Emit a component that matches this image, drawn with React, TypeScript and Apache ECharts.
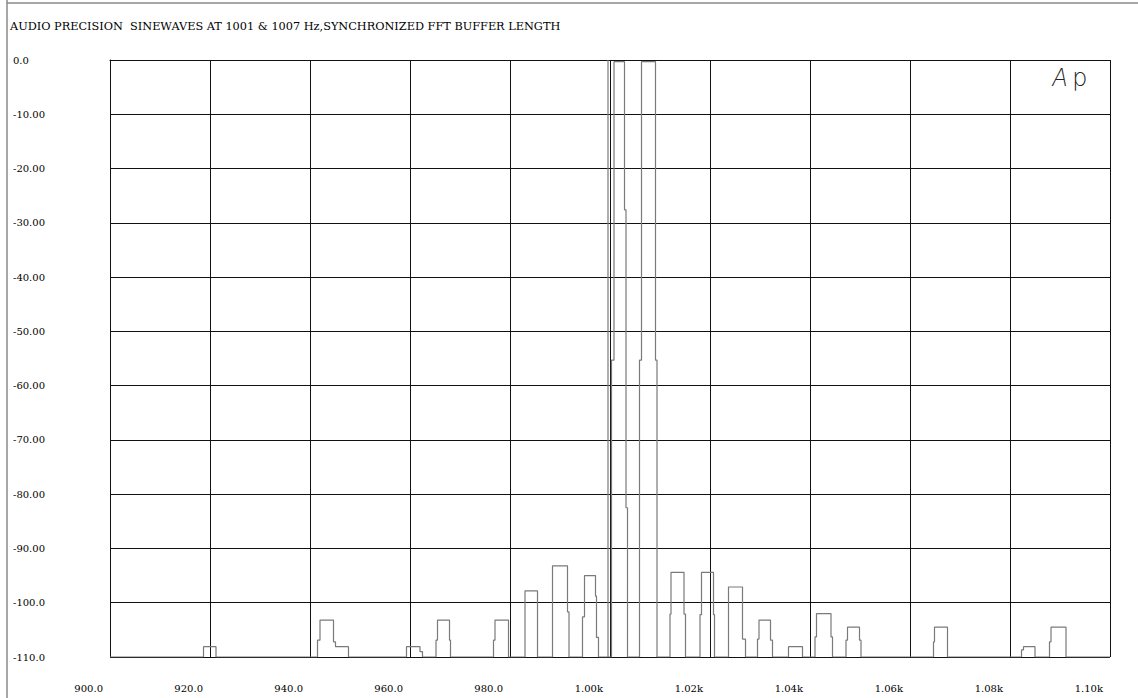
import React, { useEffect, useRef } from "react";
import * as echarts from "echarts";

const TITLE = "AUDIO PRECISION  SINEWAVES AT 1001 & 1007 Hz,SYNCHRONIZED FFT BUFFER LENGTH";

const X_MIN = 900;
const X_MAX = 1100;
const X_STEP = 20;
const Y_MIN = -110;
const Y_MAX = 0;
const Y_STEP = 10;

const X_TICK_LABELS = ["900.0", "920.0", "940.0", "960.0", "980.0", "1.00k", "1.02k", "1.04k", "1.06k", "1.08k", "1.10k"];
const Y_TICK_LABELS = ["0.0", "-10.00", "-20.00", "-30.00", "-40.00", "-50.00", "-60.00", "-70.00", "-80.00", "-90.00", "-100.0", "-110.0"];

// FFT trace [Hz, dBV]
const lowSideBumps: [number, number][] = [
  [900, -110],
  [918.7, -110], [918.7, -108.1], [921.2, -108.1], [921.2, -110],
  [941.5, -110], [941.5, -106.9], [942.0, -106.9], [942.0, -103.2], [944.7, -103.2], [944.7, -107.2], [945.1, -107.2], [945.1, -108.1], [947.7, -108.1], [947.7, -110],
  [959.3, -110], [959.3, -108.1], [962.0, -108.1], [962.0, -109.0], [962.5, -109.0], [962.5, -110],
  [965.2, -110], [965.2, -106.9], [965.5, -106.9], [965.5, -103.2], [967.9, -103.2], [967.9, -106.9], [968.1, -106.9], [968.1, -110],
  [976.7, -110], [976.7, -106.9], [977.0, -106.9], [977.0, -103.2], [979.7, -103.2], [979.7, -110],
  [983.0, -110], [983.0, -97.8], [985.5, -97.8], [985.5, -110],
  [988.5, -110], [988.5, -93.2], [991.5, -93.2], [991.5, -101.7], [991.8, -101.7], [991.8, -110],
  [994.5, -110], [994.5, -102.6], [994.9, -102.6], [994.9, -95.0], [997.1, -95.0], [997.1, -98.8], [997.3, -98.8], [997.3, -106.4], [997.7, -106.4], [997.7, -110],
];

const mainTones: [number, number][] = [
  [999.6, -110], [999.6, 0], [999.6, -110],
  [1000.3, -110], [1000.3, -55.3], [1000.8, -55.3], [1000.8, -0.3], [1002.9, -0.3], [1002.9, -27.6], [1003.2, -27.6], [1003.2, -82.5], [1003.5, -82.5], [1003.5, -110],
  [1005.9, -110], [1005.9, -55.3], [1006.3, -55.3], [1006.3, -0.3], [1009.1, -0.3], [1009.1, -55.3], [1009.4, -55.3], [1009.4, -110],
];

const highSideBumps: [number, number][] = [
  [1012.0, -110], [1012.0, -102.1], [1012.2, -102.1], [1012.2, -94.4], [1014.8, -94.4], [1014.8, -102.1], [1015.1, -102.1], [1015.1, -110],
  [1018.0, -110], [1018.0, -102.2], [1018.3, -102.2], [1018.3, -94.4], [1020.7, -94.4], [1020.7, -102.2], [1020.9, -102.2], [1020.9, -110],
  [1023.7, -110], [1023.7, -97.1], [1026.5, -97.1], [1026.5, -106.7], [1027.1, -106.7], [1027.1, -110],
  [1029.5, -110], [1029.5, -106.7], [1029.8, -106.7], [1029.8, -103.2], [1032.1, -103.2], [1032.1, -106.9], [1032.5, -106.9], [1032.5, -110],
  [1035.7, -110], [1035.7, -108.1], [1038.5, -108.1], [1038.5, -110],
  [1041.0, -110], [1041.0, -106.3], [1041.3, -106.3], [1041.3, -102.0], [1044.2, -102.0], [1044.2, -106.3], [1044.5, -106.3], [1044.5, -110],
  [1047.2, -110], [1047.2, -106.9], [1047.5, -106.9], [1047.5, -104.5], [1049.9, -104.5], [1049.9, -106.9], [1050.2, -106.9], [1050.2, -110],
  [1064.7, -110], [1064.7, -107.2], [1064.9, -107.2], [1064.9, -104.5], [1067.5, -104.5], [1067.5, -110],
  [1082.3, -110], [1082.3, -108.7], [1082.7, -108.7], [1082.7, -108.1], [1085.0, -108.1], [1085.0, -110],
  [1087.9, -110], [1087.9, -107.2], [1088.2, -107.2], [1088.2, -104.5], [1091.2, -104.5], [1091.2, -110],
  [1100, -110],
];

const FONT = "'DejaVu Serif', 'Liberation Serif', serif";
const LOGO_FONT = "Inter, 'DejaVu Sans', sans-serif";

export default function App() {
  const ref = useRef<HTMLDivElement>(null);
  useEffect(() => {
    if (!ref.current) return;
    const chart = echarts.init(ref.current, undefined, { renderer: "svg" });
    const trace = [...lowSideBumps, ...mainTones, ...highSideBumps];
    chart.setOption({
      animation: false,
      backgroundColor: "#ffffff",
      title: {
        text: TITLE,
        left: 5,
        top: 16,
        textStyle: { fontFamily: FONT, fontSize: 11.3, fontWeight: "normal", color: "#000" },
      },
      grid: { left: 110, right: 28, top: 60, bottom: 41 },
      xAxis: {
        type: "value",
        min: X_MIN,
        max: X_MAX,
        interval: X_STEP,
        axisLine: { show: true, lineStyle: { color: "#111", width: 1 } },
        axisTick: { show: false },
        splitLine: { show: true, lineStyle: { color: "#111", width: 1 } },
        axisLabel: {
          margin: 26,
          align: "right",
          padding: [0, 7, 0, 0],
          fontFamily: FONT,
          fontSize: 10,
          color: "#000",
          formatter: (v: number) => X_TICK_LABELS[Math.round((v - X_MIN) / X_STEP)] ?? "",
        },
      },
      yAxis: {
        type: "value",
        min: Y_MIN,
        max: Y_MAX,
        interval: Y_STEP,
        axisLine: { show: true, lineStyle: { color: "#111", width: 1 } },
        axisTick: { show: false },
        splitLine: { show: true, lineStyle: { color: "#111", width: 1 } },
        axisLabel: {
          margin: 97,
          align: "left",
          fontFamily: FONT,
          fontSize: 10,
          color: "#000",
          formatter: (v: number) => Y_TICK_LABELS[Math.round((Y_MAX - v) / Y_STEP)] ?? "",
        },
      },
      graphic: [
        { type: "line", shape: { x1: 7, y1: 0, x2: 7, y2: 698 }, style: { stroke: "#8a8a8a", lineWidth: 1.5 } },
        { type: "line", shape: { x1: 7, y1: 3, x2: 1138, y2: 3 }, style: { stroke: "#8a8a8a", lineWidth: 1.5 } },
        {
          type: "text",
          x: 1052,
          y: 65,
          style: {
            text: "{a|A}{p|p}",
            rich: {
              a: { fontFamily: LOGO_FONT, fontSize: 24, fontStyle: "italic", fontWeight: 200, fill: "#222", padding: [0, 5, 0, 0] },
              p: { fontFamily: LOGO_FONT, fontSize: 24, fontWeight: 200, fill: "#222" },
            },
          },
        },
      ],
      series: [
        {
          type: "line",
          data: trace,
          symbol: "none",
          clip: true,
          lineStyle: { color: "#7a7a7a", width: 1.2 },
          z: 3,
        },
      ],
    });
    return () => chart.dispose();
  }, []);
  return (
    <div
      ref={ref}
      style={{ position: "absolute", left: 0, top: 0, width: 1138, height: 698, background: "#fff" }}
    />
  );
}
